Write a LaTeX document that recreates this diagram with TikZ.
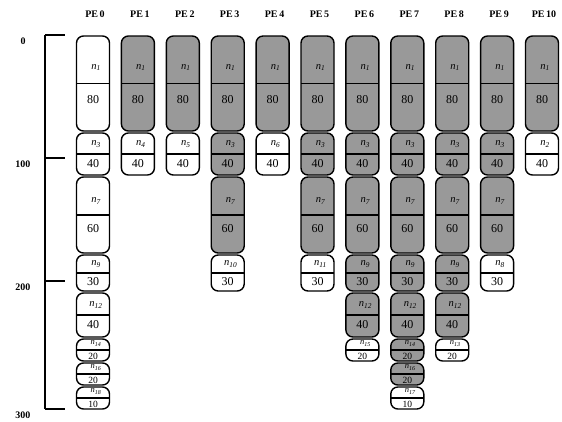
\documentclass[tikz,border=0pt]{standalone}
\usepackage{fontspec}
\setmainfont{Liberation Serif}
\usetikzlibrary{positioning}

\colorlet{dupgray}{black!40}
% y position of the schedule boundaries t = 0,80,120,180,210,250,270,290,300
\newcommand\ybnd[1]{\ifcase#1 35\or 132\or 176\or 254\or 292\or 338\or 362\or 386\or 410\fi}

\begin{document}
\begin{tikzpicture}[x=1pt,y=-1pt,
  task/.style={draw,line width=1.4pt,rounded corners=7pt},
  pelabel/.style={font=\fontsize{10}{11}\selectfont\bfseries,inner sep=0pt},
  ticklabel/.style={font=\fontsize{10}{11}\selectfont\bfseries,inner sep=0pt},
  tname/.style={inner sep=0pt},
  tdur/.style={inner sep=0pt}]
  \useasboundingbox (0,0) rectangle (562,421);

  % time axis
  \draw[line width=1.3pt] (45,35) -- (45,409);
  \foreach \v/\y in {0/35,100/158,200/281,300/409}{
    \draw[line width=1.3pt] (45,\y) -- (65,\y);
    \node[ticklabel] (t\v) at (23,\y+6) {\v};
  }

  % processors: start/end/task/duration/fill
  \foreach \c/\tl in {
    0/{0/1/1/80/white,1/2/3/40/white,2/3/7/60/white,3/4/9/30/white,4/5/12/40/white,5/6/14/20/white,6/7/16/20/white,7/8/18/10/white},
    1/{0/1/1/80/dupgray,1/2/4/40/white},
    2/{0/1/1/80/dupgray,1/2/5/40/white},
    3/{0/1/1/80/dupgray,1/2/3/40/dupgray,2/3/7/60/dupgray,3/4/10/30/white},
    4/{0/1/1/80/dupgray,1/2/6/40/white},
    5/{0/1/1/80/dupgray,1/2/3/40/dupgray,2/3/7/60/dupgray,3/4/11/30/white},
    6/{0/1/1/80/dupgray,1/2/3/40/dupgray,2/3/7/60/dupgray,3/4/9/30/dupgray,4/5/12/40/dupgray,5/6/15/20/white},
    7/{0/1/1/80/dupgray,1/2/3/40/dupgray,2/3/7/60/dupgray,3/4/9/30/dupgray,4/5/12/40/dupgray,5/6/14/20/dupgray,6/7/16/20/dupgray,7/8/17/10/white},
    8/{0/1/1/80/dupgray,1/2/3/40/dupgray,2/3/7/60/dupgray,3/4/9/30/dupgray,4/5/12/40/dupgray,5/6/13/20/white},
    9/{0/1/1/80/dupgray,1/2/3/40/dupgray,2/3/7/60/dupgray,3/4/8/30/white},
    10/{0/1/1/80/dupgray,1/2/2/40/white}}{
    \pgfmathsetmacro\cx{93+44.9*\c}
    \node[pelabel] (pe\c) at (\cx+2,14) {PE\,\c};
    \foreach \s/\e/\n/\d/\k in \tl {
      \edef\ya{\ybnd{\s}}\edef\yb{\ybnd{\e}}
      \pgfmathsetmacro\ym{(\ya+\yb)/2}
      \pgfmathsetmacro\h{\yb-\ya}
      % small boxes get smaller text
      \pgfmathsetmacro\off{\h<30 ? \h/4+0.5 : 4.5+0.12*\h}
      \pgfmathsetmacro\fsn{\h<30 ? 8.5 : 10.5}
      \pgfmathsetmacro\fsd{\h<30 ? 9.5 : 12}
      \draw[task,fill=\k] (\cx-16.5,\ya+1) rectangle (\cx+16.5,\yb-1);
      \draw[line width=1.1pt] (\cx-16.5,\ym) -- (\cx+16.5,\ym);
      \node[tname,font=\fontsize{\fsn}{\fsn}\selectfont] (n\c-\n) at (\cx+3,\ym-\off) {\itshape n\textsubscript{\n}};
      \node[tdur,font=\fontsize{\fsd}{\fsd}\selectfont] (d\c-\n) at (\cx,\ym+\off) {\d};
    }
  }
\end{tikzpicture}
\end{document}
